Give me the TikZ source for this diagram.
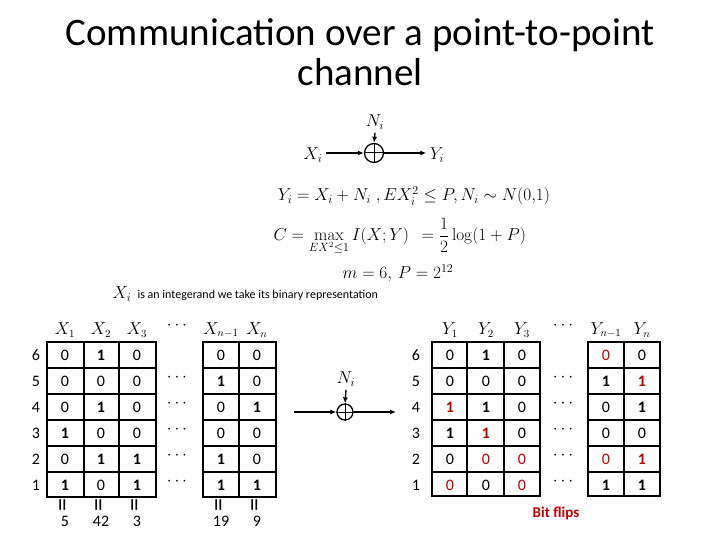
\documentclass[tikz,border=0pt]{standalone}
\usepackage[no-math]{fontspec}
\setmainfont{Carlito}
\usetikzlibrary{arrows.meta}
\definecolor{flip}{RGB}{192,0,0}
\def\cvA{0}\def\cvB{\textbf{1}}\def\cvC{\textcolor{flip}{0}}\def\cvD{\textcolor{flip}{\textbf{1}}}
\def\cv#1{\csname cv#1\endcsname}
\begin{document}
\begin{tikzpicture}[x=1pt,y=-1pt,
  cell/.style={font=\fontsize{16}{18}\selectfont},
  hdr/.style={font=\fontsize{16}{18}\selectfont},
  eq/.style={font=\fontsize{17}{20}\selectfont},
  grid/.style={line width=1.6pt},
  conn/.style={line width=1.3pt,-{Latex[length=6pt,width=5pt]}},
]
\useasboundingbox (0,0) rectangle (720,540);
% title
\node[font=\fontsize{39}{44}\selectfont] (t1) at (360,35) {Communication over a point-to-point};
\node[font=\fontsize{39}{44}\selectfont] (t2) at (360,72) {channel};
% top adder
\node[draw,circle,line width=1.3pt,minimum size=19pt,inner sep=0] (add) at (374,153) {};
\draw[line width=1pt] (add.north)--(add.south) (add.west)--(add.east);
\node[eq] (xi) at (313,155) {$X_i$};
\node[eq] (yi) at (437,155) {$Y_i$};
\node[eq] (ni) at (375,122) {$N_i$};
\draw[conn] (xi.east|-add) -- (add.west);
\draw[conn] (add.east) -- (yi.west|-add);
\draw[conn] (ni.south) -- (add.north);
% equations
\node[eq] (e1) at (414,196) {$Y_i=X_i+N_i\;,EX_i^2\le P, N_i\sim N(0{,}1)$};
\node[eq,anchor=west] (e2) at (270,236) {$\displaystyle C=\max_{EX^2\le1} I(X;Y)\ \ =\frac12\log\bigl(1+P\bigr)$};
\node[eq] (e3) at (398,273) {$m=6,\,P=2^{12}$};
\node[eq] (xx) at (122,294) {$X_i$};
\node[font=\fontsize{12}{14}\selectfont,anchor=west] (txt) at (134,295) {is an integerand we take its binary representation};
% left table
\foreach \a/\b in {47/156,203/276}{
  \draw[grid] (\a,342) rectangle (\b,497);
  \foreach \y in {368,394,420,446,472} \draw[grid] (\a,\y)--(\b,\y);}
\foreach \x in {84,119} \draw[grid] (\x,342)--(\x,497);
\draw[grid] (239,342)--(239,497);
\foreach \r/\y in {6/355,5/381,4/407,3/433,2/459,1/485}{
  \node[cell] (lr\r) at (36,\y) {\r};
  \node[cell] (rr\r) at (416,\y) {\r};}
\foreach \y/\va/\vb/\vc/\vd/\ve in {355/A/B/A/A/A,381/A/A/A/B/A,407/A/B/A/A/B,433/B/A/A/A/A,459/A/B/B/B/A,485/B/A/B/B/B}{
  \foreach \x/\v in {65/\va,101/\vb,137/\vc,221/\vd,257/\ve}{
    \node[cell] at (\x,\y) {\cv{\v}};}}
\foreach \y in {381,407,433,459,485} \node[cell] at (177,\y-3) {$\cdots$};
\foreach \x/\l in {65/X_1,101/X_2,137/X_3,221/X_{n-1},257/X_n}
  \node[hdr] at (\x,330) {$\l$};
\node[hdr] at (177,326) {$\cdots$};
\foreach \x/\n in {65/5,101/42,137/3,221/19,257/9}{
  \node[inner sep=0] at (\x,505) {\rotatebox{90}{\fontsize{26}{26}\selectfont =}};
  \node[cell] at (\x,521) {\n};}
% middle adder
\node[draw,circle,line width=1.3pt,minimum size=16pt,inner sep=0] (madd) at (345,412) {};
\draw[line width=1pt] (madd.north)--(madd.south) (madd.west)--(madd.east);
\node[eq] (mn) at (346,379) {$N_i$};
\coordinate (min) at (294,412);
\coordinate (mout) at (396,412);
\draw[conn] (min) -- (madd.west);
\draw[conn] (madd.east) -- (mout);
\draw[conn] (mn.south) -- (madd.north);
% right table
\foreach \a/\b in {432/540,588/660}{
  \draw[grid] (\a,342) rectangle (\b,496);
  \foreach \y in {368,394,420,446,472} \draw[grid] (\a,\y)--(\b,\y);}
\foreach \x in {467,504} \draw[grid] (\x,342)--(\x,496);
\draw[grid] (624,342)--(624,496);
\foreach \y/\va/\vb/\vc/\vd/\ve in {355/A/B/A/C/A,381/A/A/A/B/D,407/D/B/A/A/B,433/B/D/A/A/A,459/A/C/C/C/D,485/C/A/C/B/B}{
  \foreach \x/\v in {450/\va,486/\vb,522/\vc,606/\vd,642/\ve}{
    \node[cell] at (\x,\y) {\cv{\v}};}}
\foreach \y in {381,407,433,459,485} \node[cell] at (563,\y-3) {$\cdots$};
\foreach \x/\l in {450/Y_1,486/Y_2,522/Y_3,606/Y_{n-1},642/Y_n}
  \node[hdr] at (\x,330) {$\l$};
\node[hdr] at (563,326) {$\cdots$};
\node[text=flip,font=\fontsize{15}{16}\selectfont\bfseries] (bf) at (556,513) {Bit flips};
\end{tikzpicture}
\end{document}
